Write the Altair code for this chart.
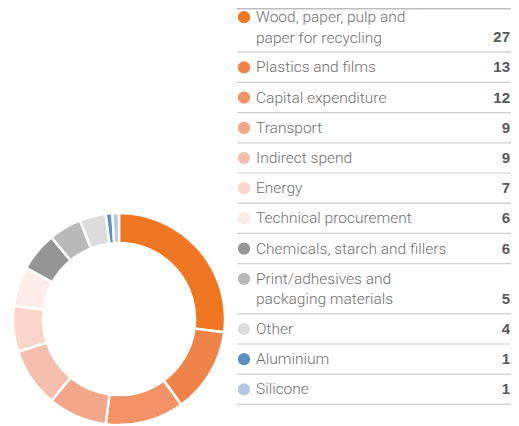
import altair as alt
import pandas as pd

# ---- data ----
categories = [
    ["Wood, paper, pulp and", "paper for recycling"],
    ["Plastics and films"],
    ["Capital expenditure"],
    ["Transport"],
    ["Indirect spend"],
    ["Energy"],
    ["Technical procurement"],
    ["Chemicals, starch and fillers"],
    ["Print/adhesives and", "packaging materials"],
    ["Other"],
    ["Aluminium"],
    ["Silicone"],
]
values = [27, 13, 12, 9, 9, 7, 6, 6, 5, 4, 1, 1]
colors = ["#EF7622", "#F0834A", "#F29266", "#F4A68B", "#F6BEAC", "#F9D5CA",
          "#FDECE8", "#959595", "#B9B9BA", "#DCDCDC", "#5E8FC1", "#B7C9E2"]

# ---- layout (pixels inside chart) ----
W, H = 503, 418
ROW1 = 30.2      # single-line row height
LINE = 20.0      # extra per additional text line
TOP0 = -6.0      # top rule of the table

rows = []
y = TOP0
for i, (lab, v, c) in enumerate(zip(categories, values, colors)):
    n = len(lab)
    h = ROW1 + LINE * (n - 1)
    rows.append({
        "idx": i,
        "key": lab[0],
        "label": lab,
        "value": v,
        "vtext": str(v),
        "color": c,
        "ytext": y + 15.2,
        "yval": y + 15.2 + LINE * (n - 1),
        "ybottom": y + h,
    })
    y += h
df = pd.DataFrame(rows)

yscale = alt.Scale(domain=[0, H], range=[0, H])
color_scale = alt.Scale(domain=[r["key"] for r in rows], range=colors)

base = alt.Chart(df)

donut = base.mark_arc(stroke="white", strokeWidth=2.5).encode(
    theta=alt.Theta("value:Q", stack=True),
    order=alt.Order("idx:Q"),
    color=alt.Color("key:N", scale=color_scale, legend=None),
    x=alt.value(111),
    y=alt.value(311),
    radius=alt.value(106),
    radius2=alt.value(76),
)

markers = base.mark_circle(size=150, opacity=1).encode(
    x=alt.value(236),
    y=alt.Y("ytext:Q", scale=yscale, axis=None),
    color=alt.Color("key:N", scale=color_scale, legend=None),
)

labels = base.mark_text(
    align="left", baseline="middle", font="Roboto", fontWeight=300,
    fontSize=15.5, color="#6f6f71", lineHeight=20.5,
).encode(
    x=alt.value(248),
    y=alt.Y("ytext:Q", scale=yscale, axis=None),
    text=alt.Text("label:N"),
)

nums = base.mark_text(
    align="right", baseline="middle", font="Liberation Sans", fontWeight="bold",
    fontSize=15, color="#58595b",
).encode(
    x=alt.value(502),
    y=alt.Y("yval:Q", scale=yscale, axis=None),
    text=alt.Text("vtext:N"),
)

rules = base.mark_rule(color="#cfcfcf", strokeWidth=1.2).encode(
    x=alt.value(229),
    x2=alt.value(W),
    y=alt.Y("ybottom:Q", scale=yscale, axis=None),
)

top_rule = alt.Chart(pd.DataFrame({"y": [0.5]})).mark_rule(
    color="#bdbdbd", strokeWidth=2
).encode(
    x=alt.value(229),
    x2=alt.value(W),
    y=alt.Y("y:Q", scale=yscale, axis=None),
)

chart = alt.layer(donut, rules, top_rule, markers, labels, nums).properties(
    width=W, height=H,
    autosize=alt.AutoSizeParams(type="none"),
    padding=0,
).configure_view(stroke=None)

chart.save("out.html", embed_options={"renderer": "svg", "actions": False})
